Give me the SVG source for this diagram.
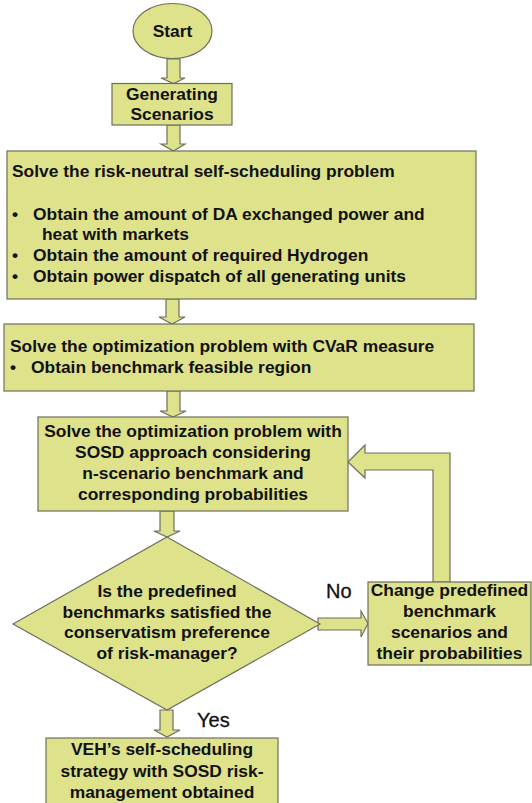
<svg xmlns="http://www.w3.org/2000/svg" width="532" height="803" viewBox="0 0 532 803">
<style>
.s{fill:#DEE28B;stroke:#6F6F5E;stroke-width:1.2}
.t{font-family:"Liberation Sans",Arial,sans-serif;font-weight:bold;font-size:17.4px;fill:#111}
.c{text-anchor:middle}
.l{font-family:"Liberation Sans",Arial,sans-serif;font-size:20px;fill:#111;stroke:#111;stroke-width:0.3}
</style>
<rect width="532" height="803" fill="#fff"/>
<g id="connectors">
<polygon class="s" points="167,59 180,59 180,78 185,78 173.5,83.5 161,78 167,78"/>
<polygon class="s" points="167,125 180,125 180,144 185,144 173.5,151 161,144 167,144"/>
<polygon class="s" points="166,299 179,299 179,317 185,317 172,324 159,317 166,317"/>
<polygon class="s" points="167,391 180,391 180,411 186,411 173,417 160,411 167,411"/>
<polygon class="s" points="160,511 174,511 174,531 180,531 167,537 154,531 160,531"/>
<polygon class="s" points="160,710 173,710 173,730 180,730 167,737 154,730 160,730"/>
<polygon class="s" points="318,618 361,618 361,611 368,623.5 361,637 361,630 318,630"/>
<polygon class="s" points="450,582 450,453 365,453 365,445 348,462 365,478 365,470 433,470 433,582"/>
<text class="l" x="326" y="598">No</text>
<text class="l" x="197" y="727">Yes</text>
</g>
<g id="start">
<ellipse class="s" cx="172.5" cy="31" rx="39.5" ry="27.5"/>
<text class="t c" x="172.5" y="37">Start</text>
</g>
<g id="generate">
<rect class="s" x="112" y="83.5" width="120" height="41.5"/>
<text class="t c" x="172" y="99.5">Generating</text>
<text class="t c" x="172" y="119.5">Scenarios</text>
</g>
<g id="risk-neutral">
<rect class="s" x="7" y="151" width="469" height="148"/>
<text class="t" x="12" y="177">Solve the risk-neutral self-scheduling problem</text>
<text class="t" x="12" y="220">•</text>
<text class="t" x="33" y="220">Obtain the amount of DA exchanged power and</text>
<text class="t" x="42" y="240">heat with markets</text>
<text class="t" x="12" y="261">•</text>
<text class="t" x="33" y="261">Obtain the amount of required Hydrogen</text>
<text class="t" x="12" y="282">•</text>
<text class="t" x="33" y="282">Obtain power dispatch of all generating units</text>
</g>
<g id="cvar">
<rect class="s" x="4" y="324" width="470" height="67"/>
<text class="t" x="10" y="352">Solve the optimization problem with CVaR measure</text>
<text class="t" x="10" y="373">•</text>
<text class="t" x="31" y="373">Obtain benchmark feasible region</text>
</g>
<g id="sosd">
<rect class="s" x="38" y="417" width="310" height="94"/>
<text class="t c" x="193" y="437">Solve the optimization problem with</text>
<text class="t c" x="193" y="458">SOSD approach considering</text>
<text class="t c" x="193" y="479">n-scenario benchmark and</text>
<text class="t c" x="193" y="500">corresponding probabilities</text>
</g>
<g id="decision">
<polygon class="s" points="167,537 320,624 167,710 13,624"/>
<text class="t c" x="167" y="597">Is the predefined</text>
<text class="t c" x="167" y="618">benchmarks satisfied the</text>
<text class="t c" x="167" y="638">conservatism preference</text>
<text class="t c" x="167" y="659">of risk-manager?</text>
</g>
<g id="change">
<rect class="s" x="368" y="582" width="163" height="83"/>
<text class="t c" x="449.5" y="596">Change predefined</text>
<text class="t c" x="449.5" y="617">benchmark</text>
<text class="t c" x="449.5" y="638">scenarios and</text>
<text class="t c" x="449.5" y="659">their probabilities</text>
</g>
<g id="result">
<rect class="s" x="46" y="738" width="232" height="72"/>
<text class="t c" x="162" y="755">VEH’s self-scheduling</text>
<text class="t c" x="162" y="777">strategy with SOSD risk-</text>
<text class="t c" x="162" y="798">management obtained</text>
</g>
</svg>
